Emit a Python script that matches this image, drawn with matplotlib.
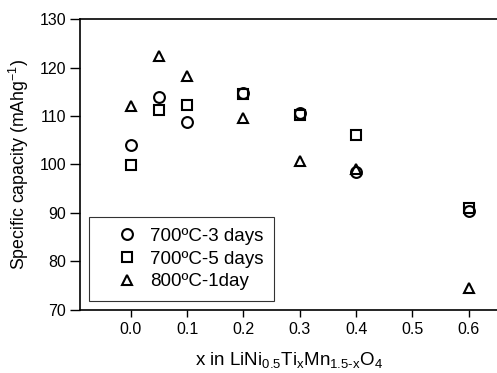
import matplotlib
matplotlib.use("Agg")
import matplotlib.pyplot as plt

plt.rcParams['font.family'] = ['Liberation Sans', 'DejaVu Sans']
plt.rcParams['mathtext.fontset'] = 'custom'
plt.rcParams['mathtext.rm'] = 'Liberation Sans'
plt.rcParams['mathtext.it'] = 'Liberation Sans'

x = [0.0, 0.05, 0.1, 0.2, 0.3, 0.4, 0.6]
cap_700_3 = [104.0, 114.0, 108.7, 114.7, 110.7, 98.4, 90.5]
cap_700_5 = [99.8, 111.3, 112.3, 114.6, 110.2, 106.0, 91.0]
cap_800_1 = [112.0, 122.3, 118.2, 109.6, 100.7, 99.0, 74.6]
labels = ['700ºC-3 days', '700ºC-5 days', '800ºC-1day']
xticks = [0.0, 0.1, 0.2, 0.3, 0.4, 0.5, 0.6]
yticks = [70, 80, 90, 100, 110, 120, 130]

fig = plt.figure(figsize=(4.97, 3.73), dpi=100)
ax = fig.add_axes([0.161, 0.169, 0.839, 0.78])

kw = dict(linestyle='none', markerfacecolor='none', markeredgecolor='black',
          markeredgewidth=1.5, markersize=7.8)
ax.plot(x, cap_700_3, marker='o', label=labels[0], **kw)
ax.plot(x, cap_700_5, marker='s', label=labels[1], **kw)
ax.plot(x, cap_800_1, marker='^', label=labels[2], **kw)

ax.set_xlim(-0.09, 0.65)
ax.set_ylim(70, 130)
ax.set_xticks(xticks)
ax.set_xticklabels([f'{v:.1f}' for v in xticks])
ax.set_yticks(yticks)
ax.tick_params(axis='x', direction='out', length=5, width=1, labelsize=11.5, pad=4)
ax.tick_params(axis='y', direction='out', length=7, width=1, labelsize=11.5, pad=3)
ax.spines['right'].set_visible(False)
for s in ['left', 'bottom', 'top']:
    ax.spines[s].set_linewidth(1.2)

ax.set_xlabel(r'x in LiNi$_{0.5}$Ti$_{x}$Mn$_{1.5\text{-}x}$O$_{4}$', fontsize=13.5, labelpad=9)
ax.set_ylabel(r'Specific capacity (mAhg$^{-1}$)', fontsize=12.8, labelpad=6)

leg = ax.legend(loc='lower left', bbox_to_anchor=(0.01, 0.016), fontsize=13.5,
                frameon=True, fancybox=False, edgecolor='black',
                handletextpad=-0.3, borderpad=0.55, labelspacing=0.3, handlelength=3.0,
                borderaxespad=0.25)
leg.get_frame().set_linewidth(0.8)

fig.savefig('out.png', dpi=100)
